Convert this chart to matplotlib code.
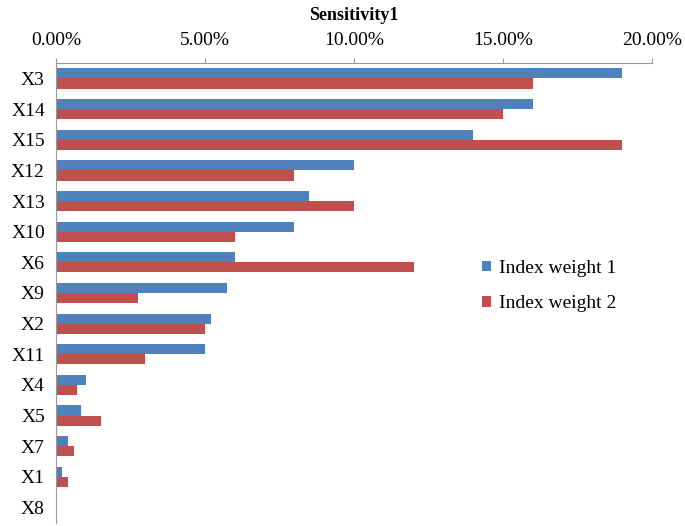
import numpy as np
import matplotlib
matplotlib.use("Agg")
import matplotlib.pyplot as plt
from matplotlib.ticker import FuncFormatter

plt.rcParams['font.family'] = ['Liberation Serif', 'DejaVu Serif']

categories = ["X3", "X14", "X15", "X12", "X13", "X10", "X6", "X9",
              "X2", "X11", "X4", "X5", "X7", "X1", "X8"]
weight1 = [19.0, 16.0, 14.0, 10.0, 8.5, 8.0, 6.0, 5.75, 5.2, 5.0,
           1.0, 0.85, 0.4, 0.2, 0.0]
weight2 = [16.0, 15.0, 19.0, 8.0, 10.0, 6.0, 12.0, 2.75, 5.0, 3.0,
           0.7, 1.5, 0.6, 0.4, 0.0]
x_ticks = [0, 5, 10, 15, 20]

fig = plt.figure(figsize=(6.85, 5.26), dpi=100)
ax = fig.add_axes([0.0818, 0.006, 0.870, 0.874])

y = np.arange(len(categories))
h = 0.33
ax.barh(y - h / 2, weight1, height=h, color="#4F81BD", label="Index weight 1")
ax.barh(y + h / 2, weight2, height=h, color="#C0504D", label="Index weight 2")

ax.set_ylim(len(categories) - 0.5, -0.5)
ax.set_xlim(0, 20)
ax.set_yticks(y)
ax.set_yticklabels(categories, fontsize=14)
ax.set_xticks(x_ticks)
ax.xaxis.set_major_formatter(FuncFormatter(lambda v, p: f"{v:.2f}%"))
ax.xaxis.tick_top()
ax.tick_params(axis="x", direction="out", length=3.6, color="#999999",
               labelsize=14, pad=6.5)
ax.tick_params(axis="y", length=0, pad=8)

for s in ["right", "bottom"]:
    ax.spines[s].set_visible(False)
for s in ["top", "left"]:
    ax.spines[s].set_color("#999999")

ax.set_title("Sensitivity1", fontsize=13, fontweight="bold", pad=9)

ax.legend(loc="center left", bbox_to_anchor=(0.686, 0.515), frameon=False,
          fontsize=14, handlelength=0.45, handleheight=0.45, handletextpad=0.4,
          labelspacing=0.95)

fig.savefig("out.png", dpi=100)
